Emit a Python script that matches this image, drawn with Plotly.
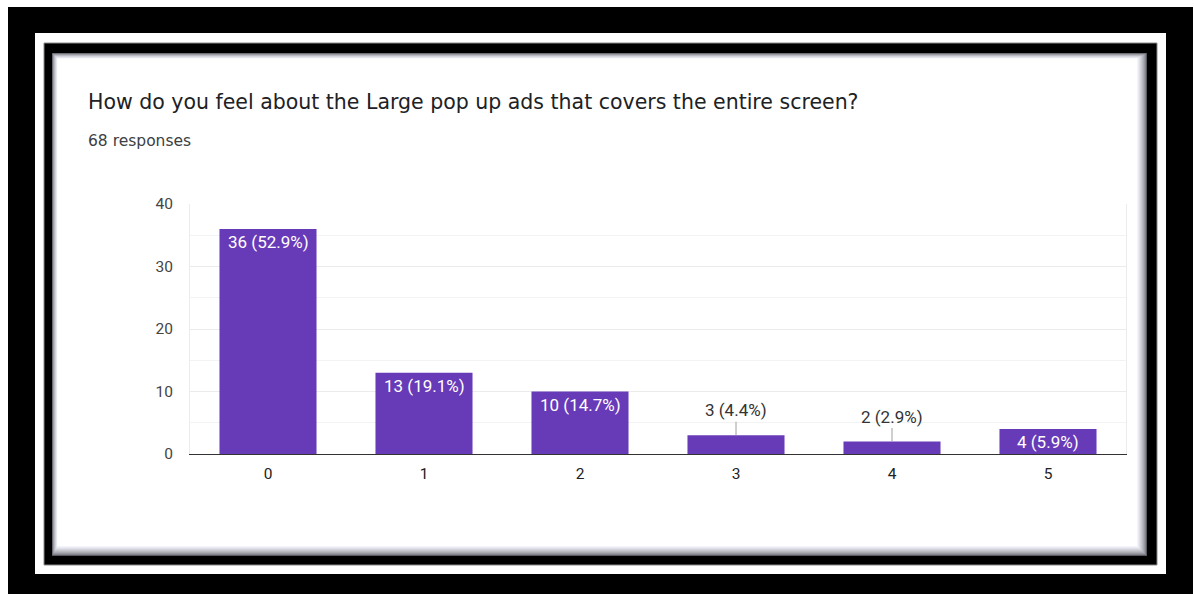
import plotly.graph_objects as go

# Survey answers: rating on the x axis, number of responses per rating
categories = ["0", "1", "2", "3", "4", "5"]
counts = [36, 13, 10, 3, 2, 4]
total_responses = 68
y_ticks = [0, 10, 20, 30, 40]

title_text = "How do you feel about the Large pop up ads that covers the entire screen?"
subtitle_text = f"{total_responses} responses"

W, H = 1194, 594
PLOT_L, PLOT_R, PLOT_T, PLOT_B = 190, 1126, 204, 454
BAR_COLOR = "#673ab7"


def px(x):
    return (x - PLOT_L) / (PLOT_R - PLOT_L)


def py(y):
    return (PLOT_B - y) / (PLOT_B - PLOT_T)


def rect(x0, y0, x1, y1, fill, line_color=None, line_width=0):
    return dict(
        type="rect", xref="paper", yref="paper", layer="below",
        x0=px(x0), x1=px(x1), y0=py(y1), y1=py(y0),
        fillcolor=fill,
        line=dict(color=line_color or fill, width=line_width),
    )


shapes = [
    rect(8, 7, 1193, 594, "#000000"),
    rect(35, 33, 1166, 574, "#ffffff"),
    rect(44, 43, 1157, 565, "#000000", "#8a8a8a", 1),
]

# card with a soft inner shadow, heavier on the right and bottom edges
steps = 11
for k in range(steps):
    t = k / (steps - 1)
    level = int(90 + (255 - 90) * (t ** 0.6))
    shapes.append(rect(52 + 0.55 * k, 53 + 0.55 * k, 1147 - k, 556 - k,
                       f"rgb({level},{level},{min(255, level + 8)})"))

fig = go.Figure(
    go.Bar(
        x=categories, y=counts, marker=dict(color=BAR_COLOR, line=dict(width=0)),
        width=0.622, hoverinfo="skip",
    )
)

annotations = [
    dict(text=title_text, xref="paper", yref="paper", x=px(86), y=py(102),
         xanchor="left", yanchor="middle", showarrow=False,
         font=dict(family="DejaVu Sans", size=20.5, color="#202124")),
    dict(text=subtitle_text, xref="paper", yref="paper", x=px(86), y=py(141),
         xanchor="left", yanchor="middle", showarrow=False,
         font=dict(family="DejaVu Sans", size=15.5, color="#3c4043")),
]

for cat, v in zip(categories, counts):
    label = f"{v} ({v / total_responses * 100:.1f}%)"
    if v >= 4:
        annotations.append(dict(
            text=label, x=cat, y=v, xref="x", yref="y",
            xanchor="center", yanchor="top", yshift=-1, showarrow=False,
            font=dict(family="Roboto", size=17, color="#ffffff"),
        ))
    else:
        annotations.append(dict(
            text=label, x=cat, y=v, xref="x", yref="y",
            showarrow=True, arrowhead=0, arrowwidth=1, arrowcolor="#9e9e9e",
            ax=0, ay=-25, standoff=0, startstandoff=0,
            xanchor="center", yanchor="middle",
            font=dict(family="Roboto", size=17, color="#333333"),
        ))

fig.update_layout(
    width=W, height=H,
    margin=dict(l=PLOT_L, r=W - PLOT_R, t=PLOT_T, b=H - PLOT_B, pad=0, autoexpand=False),
    paper_bgcolor="#ffffff", plot_bgcolor="rgba(0,0,0,0)",
    showlegend=False, shapes=shapes, annotations=annotations,
    bargap=0.378,
    xaxis=dict(
        type="category", showgrid=False, showline=True, linecolor="#333333",
        linewidth=1.2, ticks="", ticklabelstandoff=5, zeroline=False,
        tickfont=dict(family="Roboto", size=15.5, color="#222222"),
    ),
    yaxis=dict(
        range=[0, 40], tickvals=y_ticks, showgrid=True, gridcolor="#ebebeb",
        gridwidth=1, minor=dict(dtick=5, showgrid=True, gridcolor="#f3f3f3"),
        showline=True, linecolor="#ececec", mirror=True, zeroline=False,
        ticks="", ticklabelstandoff=13,
        tickfont=dict(family="Roboto", size=15.5, color="#444444"),
    ),
)

fig.write_html("out.html")
